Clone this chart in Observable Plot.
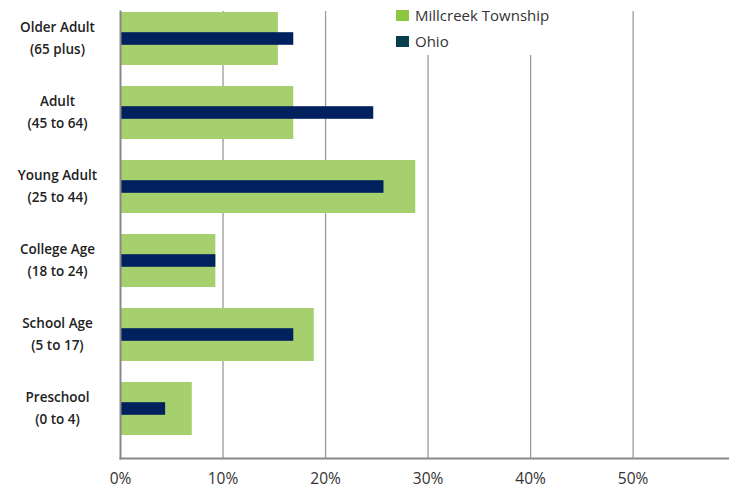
<!DOCTYPE html>
<html>
<head>
<meta charset="utf-8">
<script src="https://cdn.jsdelivr.net/npm/d3@7"></script>
<script src="https://cdn.jsdelivr.net/npm/@observablehq/plot@0.6"></script>
<style>
  body { margin: 0; background: #fff; font-family: "Open Sans", sans-serif; }
  #wrap { position: relative; width: 729px; height: 489px; }
  #legend { position: absolute; left: 390px; top: 0px; width: 175px; height: 55px; background: #fff; font-size: 15px; color: #333; }
  .item { position: absolute; left: 6px; display: flex; align-items: center; white-space: nowrap; }
  .sw { width: 13px; height: 11px; margin-right: 6px; }
</style>
</head>
<body>
<div id="wrap">
  <div id="chart"></div>
  <div id="legend">
    <div class="item" style="top:5px"><span class="sw" style="background:#8dc63f"></span>Millcreek Township</div>
    <div class="item" style="top:31px"><span class="sw" style="background:#073f4f"></span>Ohio</div>
  </div>
</div>
<script>
const categories = ["Older Adult\n(65 plus)", "Adult\n(45 to 64)", "Young Adult\n(25 to 44)", "College Age\n(18 to 24)", "School Age\n(5 to 17)", "Preschool\n(0 to 4)"];
const millcreek = [15.4, 16.9, 28.8, 9.3, 18.9, 7.0];
const ohio = [16.9, 24.7, 25.7, 9.3, 16.9, 4.4];
const xTicks = [0, 10, 20, 30, 40, 50];

const mData = categories.map((c, i) => ({cat: c, v: millcreek[i]}));
const oData = categories.map((c, i) => ({cat: c, v: ohio[i]}));

const chart = Plot.plot({
  width: 729,
  height: 489,
  marginLeft: 120,
  marginRight: 0,
  marginTop: 11,
  marginBottom: 31,
  style: {fontFamily: "Open Sans, sans-serif", background: "#fff"},
  x: {domain: [0, 59.4], label: null},
  y: {domain: categories, paddingInner: 0.28, paddingOuter: 0, insetTop: 1, insetBottom: 22, label: null},
  marks: [
    Plot.gridX(xTicks.filter(d => d > 0), {stroke: "#9a9a9a", strokeOpacity: 1, strokeWidth: 1.3}),
    Plot.barX(mData, {x: "v", y: "cat", fill: "#a6cf6e"}),
    Plot.barX(oData, {x: "v", y: "cat", fill: "#00215e", insetTop: 20.2, insetBottom: 20.2}),
    Plot.frame({anchor: "left", stroke: "#888", strokeWidth: 2}),
    Plot.frame({anchor: "bottom", stroke: "#888", strokeWidth: 2}),
    Plot.axisX({ticks: xTicks, tickFormat: d => d + "%", tickSize: 0, tickPadding: 14, fontSize: 15.5, fill: "#333", label: null}),
    Plot.axisY({tickSize: 0, tickPadding: 63, textAnchor: "middle", fontSize: 13.5, fontWeight: 600, fill: "#222", lineHeight: 1.6, dy: -3, label: null})
  ]
});
document.getElementById("chart").appendChild(chart);
</script>
</body>
</html>
